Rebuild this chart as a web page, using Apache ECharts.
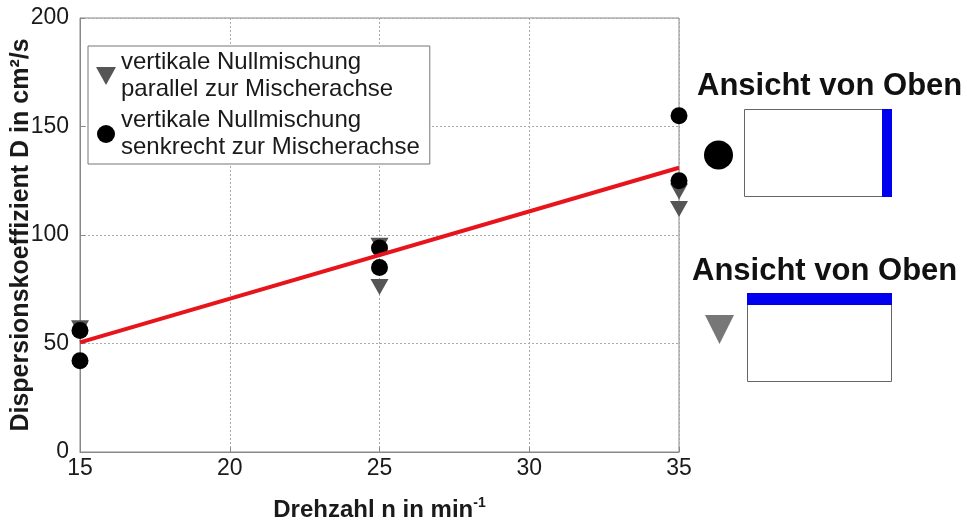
<!DOCTYPE html>
<html>
<head>
<meta charset="utf-8">
<script src="https://cdn.jsdelivr.net/npm/echarts@6/dist/echarts.min.js"></script>
<style>
html,body{margin:0;padding:0;background:#fff;}
#chart{width:967px;height:524px;}
</style>
</head>
<body>
<div id="chart"></div>
<script>
// Data
const xTicks = [15, 20, 25, 30, 35];
const yTicks = [0, 50, 100, 150, 200];
const parallelX = [15, 25, 25, 35, 35];
const parallelY = [57, 95, 76, 120, 112];
const senkrechtX = [15, 15, 25, 25, 35, 35];
const senkrechtY = [56, 42, 94, 85, 155, 125];
const fitX = [15, 35];
const fitY = [50.5, 131];
const legendNames = ['vertikale Nullmischung\nparallel zur Mischerachse', 'vertikale Nullmischung\nsenkrecht zur Mischerachse'];

const triPath = 'path://M0,0 L10,0 L5,9 Z';
const FONT = '"Liberation Sans", Arial, sans-serif';

const chart = echarts.init(document.getElementById('chart'));
chart.setOption({
  animation: false,
  backgroundColor: '#fff',
  textStyle: { fontFamily: FONT },
  grid: { left: 80, right: 288, top: 18, bottom: 72, containLabel: false, outerBoundsMode: 'none', show: true, borderColor: '#888', borderWidth: 1, backgroundColor: 'transparent' },
  legend: {
    orient: 'vertical', left: 88, top: 46,
    padding: [3, 10, 3, 8],
    borderColor: '#777', borderWidth: 1, backgroundColor: '#fff',
    itemWidth: 20, itemHeight: 18, itemGap: 4,
    textStyle: { fontSize: 24, color: '#1a1a1a', lineHeight: 27, fontFamily: FONT },
    data: [
      { name: legendNames[0], icon: triPath, itemStyle: { color: '#555', opacity: 1 } },
      { name: legendNames[1], icon: 'circle', itemStyle: { color: '#000', opacity: 1 } }
    ]
  },
  xAxis: {
    type: 'value', min: xTicks[0], max: xTicks[xTicks.length - 1], interval: 5,
    name: '{b|Drehzahl n in min}{s|-1}', nameLocation: 'middle', nameGap: 44, nameMoveOverlap: false,
    nameTextStyle: { rich: { b: { fontSize: 24, fontWeight: 'bold', color: '#1a1a1a', fontFamily: FONT, verticalAlign: 'bottom' }, s: { fontSize: 14, fontWeight: 'bold', color: '#1a1a1a', fontFamily: FONT, verticalAlign: 'top', padding: [0, 0, 12, 0] } } },
    axisLine: { show: true, lineStyle: { color: '#888' } },
    axisTick: { show: true, inside: true, length: 5, lineStyle: { color: '#888' } },
    axisLabel: { fontSize: 23, color: '#1a1a1a', margin: 5, fontFamily: FONT },
    splitLine: { show: true, lineStyle: { color: '#aaa', type: [2, 2] } }
  },
  yAxis: {
    type: 'value', min: yTicks[0], max: yTicks[yTicks.length - 1], interval: 50,
    name: 'Dispersionskoeffizient D in cm²/s', nameLocation: 'middle', nameGap: 46, nameMoveOverlap: false,
    nameTextStyle: { fontSize: 25, fontWeight: 'bold', color: '#1a1a1a', fontFamily: FONT },
    axisLine: { show: true, lineStyle: { color: '#888' } },
    axisTick: { show: true, inside: true, length: 5, lineStyle: { color: '#888' } },
    axisLabel: { fontSize: 23, color: '#1a1a1a', margin: 11, fontFamily: FONT },
    splitLine: { show: true, lineStyle: { color: '#aaa', type: [2, 2] } }
  },
  series: [
    {
      name: legendNames[0], type: 'scatter', symbol: triPath, symbolSize: [18, 16],
      itemStyle: { color: '#555', opacity: 1 }, z: 2,
      data: parallelX.map((x, i) => [x, parallelY[i]])
    },
    {
      name: legendNames[1], type: 'scatter', symbol: 'circle', symbolSize: 17,
      itemStyle: { color: '#000', opacity: 1 }, z: 3,
      data: senkrechtX.map((x, i) => [x, senkrechtY[i]])
    },
    {
      name: 'fit', type: 'line', symbol: 'none', z: 4,
      lineStyle: { color: '#e8141c', width: 4 },
      data: fitX.map((x, i) => [x, fitY[i]])
    }
  ],
  graphic: [
    { type: 'text', left: 697, top: 71, style: { text: 'Ansicht von Oben', fontSize: 31, fontWeight: 'bold', fill: '#111', fontFamily: FONT } },
    { type: 'rect', shape: { x: 744.5, y: 109.5, width: 147, height: 87 }, style: { fill: '#fff', stroke: '#666', lineWidth: 1 } },
    { type: 'rect', shape: { x: 882, y: 109, width: 10, height: 88 }, style: { fill: '#0000ee' } },
    { type: 'circle', shape: { cx: 718.5, cy: 155, r: 14.5 }, style: { fill: '#000' } },
    { type: 'text', left: 692, top: 256, style: { text: 'Ansicht von Oben', fontSize: 31, fontWeight: 'bold', fill: '#111', fontFamily: FONT } },
    { type: 'rect', shape: { x: 747.5, y: 293.5, width: 144, height: 88 }, style: { fill: '#fff', stroke: '#666', lineWidth: 1 } },
    { type: 'rect', shape: { x: 747, y: 293, width: 145, height: 12 }, style: { fill: '#0000ee' } },
    { type: 'polygon', shape: { points: [[705, 315], [734, 315], [719.5, 344]] }, style: { fill: '#777' } }
  ]
});
</script>
</body>
</html>
